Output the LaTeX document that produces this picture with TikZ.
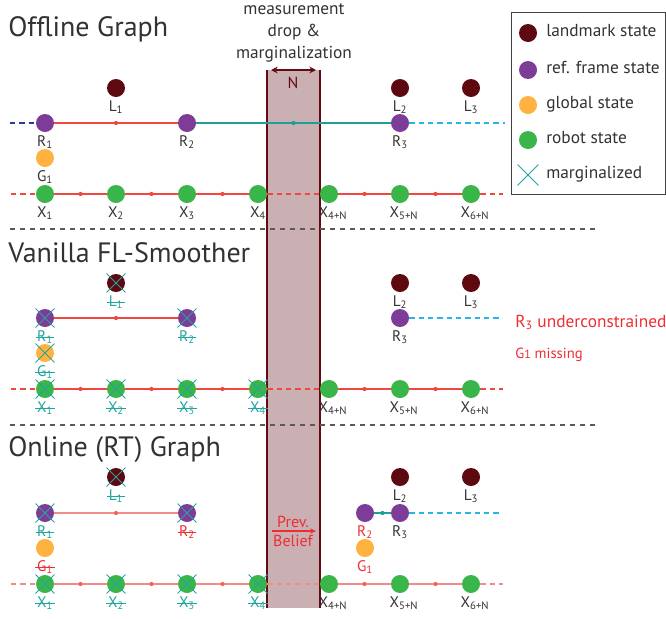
\documentclass[tikz,border=0pt]{standalone}
\usepackage{fontspec}
\setmainfont{PT Sans}
\usetikzlibrary{shapes.misc,arrows.meta}
\definecolor{lmc}{RGB}{94,8,16}
\definecolor{rfc}{RGB}{125,60,152}
\definecolor{glc}{RGB}{255,178,64}
\definecolor{rbc}{RGB}{57,181,74}
\definecolor{mgc}{RGB}{32,166,160}
\definecolor{fac}{RGB}{240,72,62}
\definecolor{facl}{RGB}{242,140,138}
\definecolor{skyc}{RGB}{40,180,230}
\definecolor{navc}{RGB}{40,60,150}
\definecolor{tlc}{RGB}{30,160,150}
\definecolor{colf}{RGB}{203,176,179}
\definecolor{cole}{RGB}{100,10,18}
\definecolor{txc}{RGB}{50,50,50}
\definecolor{rtx}{RGB}{238,45,50}
\definecolor{sepc}{RGB}{90,90,90}
\newcommand\strk[2]{\draw[#2,line width=0.8pt] ([xshift=-1pt,yshift=2.8pt]#1.base west) -- ([xshift=1pt,yshift=2.8pt]#1.base east);}
\begin{document}
\begin{tikzpicture}[x=0.75pt,y=-0.75pt,
  st/.style={circle,inner sep=0pt,minimum size=13.5pt},
  lmk/.style={st,fill=lmc}, rfs/.style={st,fill=rfc},
  glob/.style={st,fill=glc}, rob/.style={st,fill=rbc},
  xm/.style={cross out,draw=mgc,line width=0.7pt,inner sep=0pt,minimum size=13.5pt},
  fdot/.style={circle,fill=fac,inner sep=0pt,minimum size=3.2pt},
  fdotl/.style={circle,fill=fac!85,inner sep=0pt,minimum size=3.2pt},
  tdot/.style={circle,fill=tlc,inner sep=0pt,minimum size=3.2pt},
  fline/.style={draw=fac,line width=0.9pt},
  flinel/.style={draw=facl,line width=1.1pt},
  tline/.style={draw=tlc,line width=0.9pt},
  fdash/.style={draw=fac,line width=0.9pt,dash pattern=on 4pt off 3pt},
  fdashl/.style={draw=facl,line width=1.1pt,dash pattern=on 4pt off 3pt},
  skydash/.style={draw=skyc,line width=0.9pt,dash pattern=on 4pt off 3pt},
  navdash/.style={draw=navc,line width=0.9pt,dash pattern=on 4pt off 3pt},
  sep/.style={draw=sepc,line width=0.8pt,dash pattern=on 3.5pt off 4pt},
  lab/.style={inner sep=0pt,anchor=base,text=txc,font=\fontsize{11.5}{13}\selectfont},
  mlab/.style={lab,text=mgc},
  rlab/.style={lab,text=rtx},
  title/.style={inner sep=0pt,anchor=base west,text=txc,font=\fontsize{21}{24}\selectfont},
  legt/.style={inner sep=0pt,anchor=mid west,text=txc,font=\fontsize{13}{15}\selectfont}
]
\useasboundingbox (0,0) rectangle (666,618);
% column
\fill[colf] (267,70) rectangle (320,608);
\draw[cole,line width=1.1pt] (267,70) -- (267,608) (320,70) -- (320,608);
\coordinate (Na) at (271,70);
\coordinate (Nb) at (316,70);
\draw[cole,line width=1.2pt,{Stealth[length=5pt,width=5pt]}-{Stealth[length=5pt,width=5pt]}] (Na) -- (Nb);
\node[inner sep=0pt,text=cole,font=\fontsize{12}{13}\selectfont] (Nl) at (293,83) {N};
\node[align=center,inner sep=0pt,text=txc,font=\fontsize{13}{16.2}\selectfont] (mdm) at (294,33) {measurement\\drop \&\\marginalization};
% titles
\node[title] (t1) at (8,36) {Offline Graph};
\node[title] (t2) at (8,262) {Vanilla FL-Smoother};
\node[title] (t3) at (8,456) {Online (RT) Graph};
% separators
\coordinate (s1a) at (10,229); \coordinate (s1b) at (595,229);
\coordinate (s2a) at (10,425); \coordinate (s2b) at (595,425);
\draw[sep] (s1a) -- (s1b);
\draw[sep] (s2a) -- (s2b);
% legend
\draw[draw=black!75,line width=0.7pt] (511,12) rectangle (665,194);
\node[lmk] (kL) at (528,33) {};
\node[rfs] (kR) at (528,70) {};
\node[glob] (kG) at (528,105) {};
\node[rob] (kX) at (528,140) {};
\node[xm,minimum size=15pt] (kM) at (528,175) {};
\node[legt] (kLt) at (546,33) {landmark state};
\node[legt] (kRt) at (546,70) {ref. frame state};
\node[legt] (kGt) at (546,105) {global state};
\node[legt] (kXt) at (546,140) {robot state};
\node[legt] (kMt) at (546,175) {marginalized};

% ================= Offline graph =================
\node[lmk] (aL1) at (116,88) {};
\node[lmk] (aL2) at (400,88) {};
\node[lmk] (aL3) at (471,88) {};
\node[rfs] (aR1) at (45,123) {};
\node[rfs] (aR2) at (187,123) {};
\node[rfs] (aR3) at (400,123) {};
\node[glob] (aG1) at (45,158) {};
\node[rob] (aX1) at (45,194) {};
\node[rob] (aX2) at (116,194) {};
\node[rob] (aX3) at (187,194) {};
\node[rob] (aX4) at (258,194) {};
\node[rob] (aX5) at (329,194) {};
\node[rob] (aX6) at (400,194) {};
\node[rob] (aX7) at (471,194) {};
\coordinate (aRl) at (10,123); \coordinate (aRr) at (505,123);
\coordinate (aXl) at (11,194); \coordinate (aXr) at (503,194);
\draw[navdash] (aRl) -- (aR1);
\draw[skydash] (aR3) -- (aRr);
\draw[fline] (aR1) -- node[fdot] (af1) {} (aR2);
\draw[tline] (aR2) -- node[tdot] (af2) {} (aR3);
\draw[fdash] (aXl) -- (aX1);
\draw[fline] (aX1) -- node[fdot] (af3) {} (aX2) -- node[fdot] (af4) {} (aX3) -- node[fdot] (af5) {} (aX4);
\draw[fdash] (aX4) -- (aX5);
\draw[fline] (aX5) -- node[fdot] (af6) {} (aX6) -- node[fdot] (af7) {} (aX7);
\draw[fdash] (aX7) -- (aXr);
\node[lab] (aL1t) at (116,111) {L\textsubscript{1}};
\node[lab] (aL2t) at (400,111) {L\textsubscript{2}};
\node[lab] (aL3t) at (471,111) {L\textsubscript{3}};
\node[lab] (aR1t) at (45,146) {R\textsubscript{1}};
\node[lab] (aR2t) at (187,146) {R\textsubscript{2}};
\node[lab] (aR3t) at (400,146) {R\textsubscript{3}};
\node[lab] (aG1t) at (45,181) {G\textsubscript{1}};
\node[lab] (aX1t) at (45,217) {X\textsubscript{1}};
\node[lab] (aX2t) at (116,217) {X\textsubscript{2}};
\node[lab] (aX3t) at (187,217) {X\textsubscript{3}};
\node[lab] (aX4t) at (258,217) {X\textsubscript{4}};
\node[lab] (aX5t) at (333,217) {X\textsubscript{4+N}};
\node[lab] (aX6t) at (404,217) {X\textsubscript{5+N}};
\node[lab] (aX7t) at (475,217) {X\textsubscript{6+N}};

% ================= Vanilla FL-Smoother =================
\node[lmk] (bL1) at (116,283) {};
\node[lmk] (bL2) at (400,283) {};
\node[lmk] (bL3) at (471,283) {};
\node[rfs] (bR1) at (45,318) {};
\node[rfs] (bR2) at (187,318) {};
\node[rfs] (bR3) at (400,318) {};
\node[glob] (bG1) at (45,353) {};
\node[rob] (bX1) at (45,389) {};
\node[rob] (bX2) at (116,389) {};
\node[rob] (bX3) at (187,389) {};
\node[rob] (bX4) at (258,389) {};
\node[rob] (bX5) at (329,389) {};
\node[rob] (bX6) at (400,389) {};
\node[rob] (bX7) at (471,389) {};
\coordinate (bRr) at (502,318);
\coordinate (bXl) at (11,389); \coordinate (bXr) at (503,389);
\draw[skydash] (bR3) -- (bRr);
\draw[fline] (bR1) -- node[fdot] (bf1) {} (bR2);
\draw[fdash] (bXl) -- (bX1);
\draw[fline] (bX1) -- node[fdot] (bf3) {} (bX2) -- node[fdot] (bf4) {} (bX3) -- node[fdot] (bf5) {} (bX4);
\draw[fdash] (bX4) -- (bX5);
\draw[fline] (bX5) -- node[fdot] (bf6) {} (bX6) -- node[fdot] (bf7) {} (bX7);
\draw[fdash] (bX7) -- (bXr);
\foreach \n in {bL1,bR1,bR2,bG1,bX1,bX2,bX3,bX4} {\node[xm] (\n m) at (\n) {};}
\node[mlab] (bL1t) at (116,306) {L\textsubscript{1}};
\node[lab] (bL2t) at (400,306) {L\textsubscript{2}};
\node[lab] (bL3t) at (471,306) {L\textsubscript{3}};
\node[mlab] (bR1t) at (45,341) {R\textsubscript{1}};
\node[mlab] (bR2t) at (187,341) {R\textsubscript{2}};
\node[lab] (bR3t) at (400,341) {R\textsubscript{3}};
\node[mlab] (bG1t) at (45,376) {G\textsubscript{1}};
\node[mlab] (bX1t) at (45,412) {X\textsubscript{1}};
\node[mlab] (bX2t) at (116,412) {X\textsubscript{2}};
\node[mlab] (bX3t) at (187,412) {X\textsubscript{3}};
\node[mlab] (bX4t) at (258,412) {X\textsubscript{4}};
\node[lab] (bX5t) at (333,412) {X\textsubscript{4+N}};
\node[lab] (bX6t) at (404,412) {X\textsubscript{5+N}};
\node[lab] (bX7t) at (475,412) {X\textsubscript{6+N}};
\foreach \n in {bL1t,bR1t,bR2t,bG1t,bX1t,bX2t,bX3t,bX4t} {\strk{\n}{mgc}}
\node[inner sep=0pt,anchor=base west,text=rtx,font=\fontsize{13}{15}\selectfont] (uc) at (515,327) {R\textsubscript{3} underconstrained};
\node[inner sep=0pt,anchor=base west,text=rtx,font=\fontsize{11}{12}\selectfont] (gm) at (515,358) {G{\fontsize{9}{10}\selectfont 1} missing};

% ================= Online (RT) Graph =================
\node[lmk] (cL1) at (116,477) {};
\node[lmk] (cL2) at (400,477) {};
\node[lmk] (cL3) at (471,477) {};
\node[rfs] (cR1) at (45,513) {};
\node[rfs] (cR2) at (187,513) {};
\node[rfs] (cR2b) at (365,513) {};
\node[rfs] (cR3) at (400,513) {};
\node[glob] (cG1) at (45,548) {};
\node[glob] (cG1b) at (365,548) {};
\node[rob] (cX1) at (45,584) {};
\node[rob] (cX2) at (116,584) {};
\node[rob] (cX3) at (187,584) {};
\node[rob] (cX4) at (258,584) {};
\node[rob] (cX5) at (329,584) {};
\node[rob] (cX6) at (400,584) {};
\node[rob] (cX7) at (471,584) {};
\coordinate (cRr) at (502,513);
\coordinate (cXl) at (11,584); \coordinate (cXr) at (503,584);
\draw[skydash] (cR3) -- (cRr);
\draw[tline] (cR2b) -- node[tdot] (cf0) {} (cR3);
\draw[flinel] (cR1) -- node[fdotl] (cf1) {} (cR2);
\draw[fdashl] (cXl) -- (cX1);
\draw[flinel] (cX1) -- node[fdotl] (cf3) {} (cX2) -- node[fdotl] (cf4) {} (cX3) -- node[fdotl] (cf5) {} (cX4);
\draw[fdashl] (cX4) -- (cX5);
\draw[flinel] (cX5) -- node[fdotl] (cf6) {} (cX6) -- node[fdotl] (cf7) {} (cX7);
\draw[fdashl] (cX7) -- (cXr);
\foreach \n in {cL1,cR1,cR2,cX1,cX2,cX3,cX4} {\node[xm] (\n m) at (\n) {};}
\node[mlab] (cL1t) at (116,500) {L\textsubscript{1}};
\node[lab] (cL2t) at (400,500) {L\textsubscript{2}};
\node[lab] (cL3t) at (471,500) {L\textsubscript{3}};
\node[mlab] (cR1t) at (45,536) {R\textsubscript{1}};
\node[rlab] (cR2t) at (187,536) {R\textsubscript{2}};
\node[rlab] (cR2bt) at (365,536) {R\textsubscript{2}};
\node[lab] (cR3t) at (400,536) {R\textsubscript{3}};
\node[rlab] (cG1t) at (45,571) {G\textsubscript{1}};
\node[rlab] (cG1bt) at (365,571) {G\textsubscript{1}};
\node[mlab] (cX1t) at (45,607) {X\textsubscript{1}};
\node[mlab] (cX2t) at (116,607) {X\textsubscript{2}};
\node[mlab] (cX3t) at (187,607) {X\textsubscript{3}};
\node[mlab] (cX4t) at (258,607) {X\textsubscript{4}};
\node[lab] (cX5t) at (333,607) {X\textsubscript{4+N}};
\node[lab] (cX6t) at (404,607) {X\textsubscript{5+N}};
\node[lab] (cX7t) at (475,607) {X\textsubscript{6+N}};
\foreach \n in {cL1t,cR1t,cX1t,cX2t,cX3t,cX4t} {\strk{\n}{mgc}}
\foreach \n in {cR2t,cG1t} {\strk{\n}{rtx}}
% prev belief
\node[inner sep=0pt,anchor=base,text=rtx,font=\fontsize{12}{13}\selectfont] (pv1) at (293,527) {Prev.};
\node[inner sep=0pt,anchor=base,text=rtx,font=\fontsize{12}{13}\selectfont] (pv2) at (293,546) {Belief};
\coordinate (pva) at (272,531); \coordinate (pvb) at (316,531);
\draw[rtx,line width=0.9pt,-{Stealth[length=4.5pt,width=4pt]}] (pva) -- (pvb);
\end{tikzpicture}
\end{document}
